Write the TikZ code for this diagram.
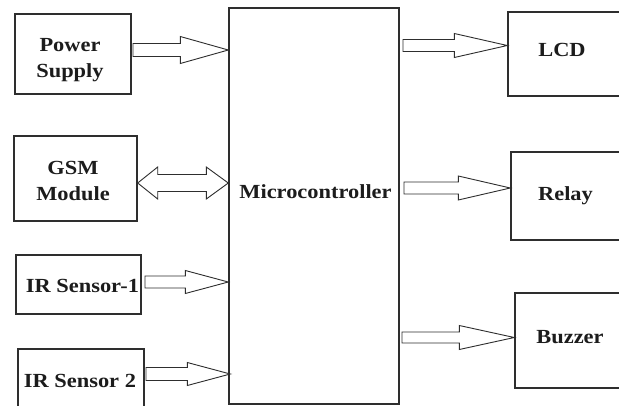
\documentclass[tikz,border=0pt]{standalone}
\usepackage{fontspec}
\setmainfont{Liberation Serif}[FakeStretch=1.12]
\usetikzlibrary{calc}
\definecolor{ink}{HTML}{1C1C1C}
\definecolor{edge}{HTML}{2E2E2E}
\tikzset{
  box/.style={draw=edge, line width=1.4pt, inner sep=0pt},
  lbl/.style={text=ink, font=\fontsize{20}{26}\selectfont\bfseries, anchor=base, align=center, inner sep=0pt},
  arrowline/.style={draw=edge, line width=0.9pt, line join=miter}
}
% #1 start, #2 tip, #3 head length, #4 shaft half height, #5 head half height
\newcommand\blockarrow[5]{\draw[arrowline] ($(#1)+(0,-#4)$) -- ($(#2)+(-#3,-#4)$) -- ($(#2)+(-#3,-#5)$) -- (#2) -- ($(#2)+(-#3,#5)$) -- ($(#2)+(-#3,#4)$) -- ($(#1)+(0,#4)$) -- cycle;}
% #1 left tip, #2 right tip, #3 left head length, #4 right head length, #5 shaft half, #6 head half
\newcommand\dblarrow[6]{\draw[arrowline] (#1) -- ($(#1)+(#3,-#6)$) -- ($(#1)+(#3,-#5)$) -- ($(#2)+(-#4,-#5)$) -- ($(#2)+(-#4,-#6)$) -- (#2) -- ($(#2)+(-#4,#6)$) -- ($(#2)+(-#4,#5)$) -- ($(#1)+(#3,#5)$) -- ($(#1)+(#3,#6)$) -- cycle;}
\begin{document}
\begin{tikzpicture}[x=1pt,y=-1pt]
\fill[white] (0,0) rectangle (619,405);
\useasboundingbox (0,0) rectangle (619,405);
% boxes
\node[box, minimum width=116pt, minimum height=80pt] (ps) at (73,54) {};
\node[box, minimum width=123pt, minimum height=85pt] (gsm) at (75.5,178.5) {};
\node[box, minimum width=125pt, minimum height=59pt] (ir1) at (78.5,284.5) {};
\node[box, minimum width=126pt, minimum height=62pt] (ir2) at (81,380) {};
\node[box, minimum width=170pt, minimum height=396pt] (mc) at (314,206) {};
\node[box, minimum width=117pt, minimum height=84pt] (lcd) at (566.5,54) {};
\node[box, minimum width=115pt, minimum height=88pt] (relay) at (568.5,196) {};
\node[box, minimum width=112pt, minimum height=95pt] (buzzer) at (571,340.5) {};
% labels
\node[lbl] (psl) at (70,77) {Power\\Supply};
\node[lbl] (gsml) at (73,200) {GSM\\Module};
\node[lbl] (ir1l) at (82.5,292) {IR Sensor-1};
\node[lbl] (ir2l) at (80,387) {IR Sensor 2};
\node[lbl] (mcl) at (315.5,198) {Microcontroller};
\node[lbl] (lcdl) at (562,56) {LCD};
\node[lbl] (relayl) at (565.5,200) {Relay};
\node[lbl] (buzzerl) at (570,343) {Buzzer};
% arrow coordinates
\coordinate (a1) at (133,50);   \coordinate (t1) at (mc.west |- a1);
\coordinate (gl) at (gsm.east |- 0,183); \coordinate (gr) at (mc.west |- 0,183);
\coordinate (a3) at (145,282);  \coordinate (t3) at (mc.west |- a3);
\coordinate (a4) at (146,374);  \coordinate (t4) at ([xshift=2pt]mc.west |- a4);
\coordinate (a5) at (403,45.5); \coordinate (t5) at (lcd.west |- a5);
\coordinate (a6) at (404,188);  \coordinate (t6) at (relay.west |- a6);
\coordinate (a7) at (402,337.5);\coordinate (t7) at (buzzer.west |- a7);
% arrows
\blockarrow{a1}{t1}{48}{6.5}{13.5}
\dblarrow{gl}{gr}{20}{22}{8.5}{16}
\blockarrow{a3}{t3}{43}{6}{11.5}
\blockarrow{a4}{t4}{43}{6.5}{11.5}
\blockarrow{a5}{t5}{53}{6}{12}
\blockarrow{a6}{t6}{52}{6}{12}
\blockarrow{a7}{t7}{55}{5.5}{12}
\end{tikzpicture}
\end{document}
